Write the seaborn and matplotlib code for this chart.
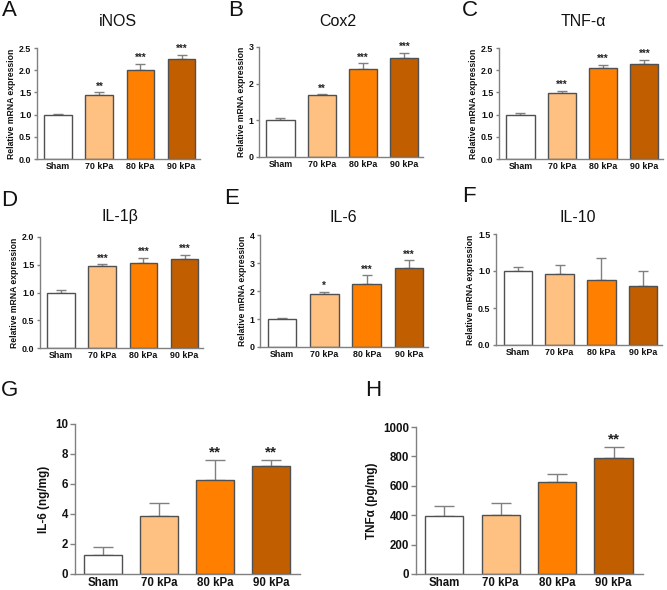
import matplotlib
matplotlib.use("Agg")
import matplotlib.pyplot as plt
import seaborn as sns
import pandas as pd

sns.set_theme(style="white")
plt.rcParams['font.family'] = ['Liberation Sans', 'DejaVu Sans']

groups = ["Sham", "70 kPa", "80 kPa", "90 kPa"]
colors = ["#FFFFFF", "#FFC182", "#FF8000", "#C05E00"]

inos_mean = [1.00, 1.45, 2.00, 2.25]
inos_err = [0.02, 0.06, 0.15, 0.10]
inos_sig = ["", "**", "***", "***"]

cox2_mean = [1.00, 1.68, 2.39, 2.71]
cox2_err = [0.07, 0.04, 0.17, 0.14]
cox2_sig = ["", "**", "***", "***"]

tnfa_mean = [1.00, 1.49, 2.04, 2.14]
tnfa_err = [0.03, 0.05, 0.08, 0.10]
tnfa_sig = ["", "***", "***", "***"]

il1b_mean = [1.00, 1.47, 1.54, 1.60]
il1b_err = [0.04, 0.04, 0.09, 0.08]
il1b_sig = ["", "***", "***", "***"]

il6_mean = [1.01, 1.88, 2.25, 2.82]
il6_err = [0.04, 0.09, 0.31, 0.28]
il6_sig = ["", "*", "***", "***"]

il10_mean = [1.00, 0.96, 0.88, 0.80]
il10_err = [0.06, 0.12, 0.30, 0.20]
il10_sig = ["", "", "", ""]

il6p_mean = [1.29, 3.84, 6.28, 7.17]
il6p_err = [0.52, 0.88, 1.32, 0.40]
il6p_sig = ["", "", "**", "**"]

tnfp_mean = [392, 398, 624, 787]
tnfp_err = [68, 84, 54, 74]
tnfp_sig = ["", "", "", "**"]

W, H = 667, 590
fig = plt.figure(figsize=(W / 100, H / 100), dpi=100)


def add_ax(x0, yt, x1, yb):
    return fig.add_axes([x0 / W, 1 - yb / H, (x1 - x0) / W, (yb - yt) / H])


def panel(rect, means, errs, sigs, ymax, yticks, ylabel, title, letter, lpos, tpos,
          small=True, ticklabels=None, xlim=(-0.52, 3.45)):
    ax = add_ax(*rect)
    df = pd.DataFrame({"group": groups, "value": means})
    sns.barplot(data=df, x="group", y="value", hue="group", palette=colors,
                order=groups, hue_order=groups, legend=False, width=0.68,
                saturation=1, edgecolor="#505050", linewidth=1.0, ax=ax, errorbar=None)
    ecap = 3.5 if small else 7
    ax.errorbar(range(4), means, yerr=[[0] * 4, errs], fmt="none",
                ecolor="#808080", elinewidth=1.0, capsize=ecap, capthick=1.0, zorder=1)
    for p in ax.patches:
        p.set_zorder(2)
    ssize = 7 if small else 11
    for i, (m, e, s) in enumerate(zip(means, errs, sigs)):
        if s:
            ax.text(i, m + e + ymax * 0.005, s, ha="center", va="bottom",
                    fontsize=ssize, fontweight="bold", color="#222222")
    ax.set_ylim(0, ymax)
    ax.set_xlim(*xlim)
    ax.set_yticks(yticks)
    if ticklabels is not None:
        ax.set_yticklabels(ticklabels)
    fs = 6.4 if small else 8.3
    ax.tick_params(axis="both", which="both", direction="out", length=2.5 if small else 3.5,
                   width=1.0, color="#808080", labelsize=fs, pad=1.5, bottom=True, left=True)
    ax.tick_params(axis="x", length=0, pad=2)
    for lab in ax.get_xticklabels() + ax.get_yticklabels():
        lab.set_fontweight("bold")
        lab.set_color("#111111")
    for side in ["top", "right"]:
        ax.spines[side].set_visible(False)
    for side in ["left", "bottom"]:
        ax.spines[side].set_color("#808080")
        ax.spines[side].set_linewidth(1.0)
    ax.set_xlabel("")
    ax.set_ylabel(ylabel, fontsize=6.2 if small else 8.5, fontweight="bold",
                  color="#111111", labelpad=2 if small else 4)
    if title:
        fig.text(tpos[0] / W, 1 - tpos[1] / H, title, ha="center", va="center",
                 fontsize=11.5, color="#111111")
    fig.text(lpos[0] / W, 1 - lpos[1] / H, letter, ha="center", va="center",
             fontsize=16, color="#111111")
    return ax


rl = "Relative mRNA expression"
panel((37, 48, 200, 159), inos_mean, inos_err, inos_sig, 2.5, [0, 0.5, 1.0, 1.5, 2.0, 2.5],
      rl, "iNOS", "A", (9, 11), (118, 21),
      ticklabels=["0.0", "0.5", "1.0", "1.5", "2.0", "2.5"])
panel((259, 47, 423, 157), cox2_mean, cox2_err, cox2_sig, 3, [0, 1, 2, 3],
      rl, "Cox2", "B", (236, 11), (338, 21))
panel((499, 48, 663, 159), tnfa_mean, tnfa_err, tnfa_sig, 2.5, [0, 0.5, 1.0, 1.5, 2.0, 2.5],
      rl, "TNF-α", "C", (470, 11), (583, 21),
      ticklabels=["0.0", "0.5", "1.0", "1.5", "2.0", "2.5"])
panel((40, 237, 203, 348), il1b_mean, il1b_err, il1b_sig, 2.0, [0, 0.5, 1.0, 1.5, 2.0],
      rl, "IL-1β", "D", (9, 200), (120, 217),
      ticklabels=["0.0", "0.5", "1.0", "1.5", "2.0"])
panel((260, 235, 428, 347), il6_mean, il6_err, il6_sig, 4, [0, 1, 2, 3, 4],
      rl, "IL-6", "E", (232, 198), (343, 217))
panel((496, 234, 662, 345), il10_mean, il10_err, il10_sig, 1.5, [0, 0.5, 1.0, 1.5],
      rl, "IL-10", "F", (469, 197), (578, 217),
      ticklabels=["0.0", "0.5", "1.0", "1.5"])
panel((75, 424, 300, 574), il6p_mean, il6p_err, il6p_sig, 10, [0, 2, 4, 6, 8, 10],
      "IL-6 (ng/mg)", "", "G", (10, 391), (0, 0), small=False, xlim=(-0.5, 3.52))
panel((416, 427, 643, 574), tnfp_mean, tnfp_err, tnfp_sig, 1000, [0, 200, 400, 600, 800, 1000],
      "TNFα (pg/mg)", "", "H", (373, 390), (0, 0), small=False, xlim=(-0.5, 3.52))

fig.savefig("out.png", dpi=100, facecolor="white")
